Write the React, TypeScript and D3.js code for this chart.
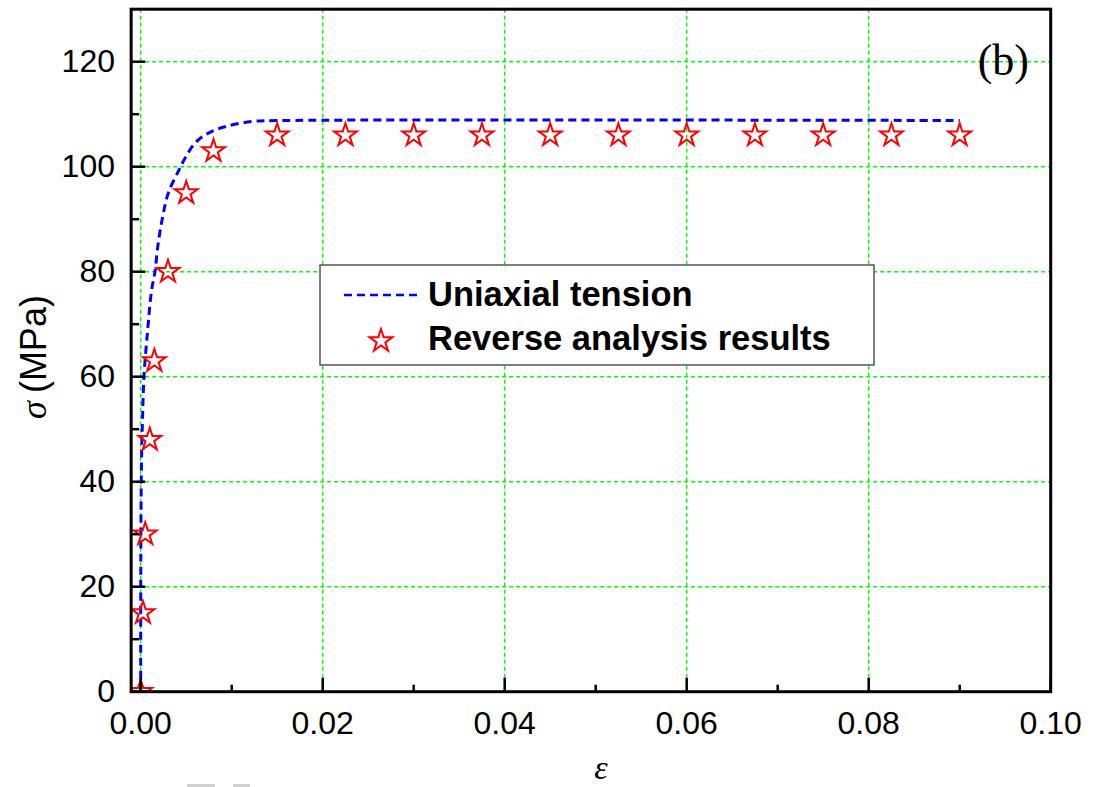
import React from "react";
import * as d3 from "d3";

// Uniaxial tension stress–strain curve (strain, stress in MPa)
const curveStrain = [0, 0.00002, 0.0001, 0.0002, 0.00036, 0.00077, 0.0012, 0.00157, 0.00193, 0.00242, 0.00303, 0.00413, 0.00487, 0.00597, 0.00743, 0.00926, 0.0122, 0.016, 0.09];
const curveStress = [0, 30, 45, 52, 60, 69, 76.5, 80, 85.5, 90.5, 95, 99.1, 101.6, 104.5, 106.4, 107.6, 108.6, 108.8, 108.8];

// Reverse analysis results
const pointStrain = [0, 0.00025, 0.0005, 0.001, 0.0015, 0.003, 0.005, 0.008, 0.015, 0.0225, 0.03, 0.0375, 0.045, 0.0525, 0.06, 0.0675, 0.075, 0.0825, 0.09];
const pointStress = [0, 15, 30, 48, 63, 80, 95, 103, 106, 106, 106, 106, 106, 106, 106, 106, 106, 106, 106];

const xTicks = [0, 0.02, 0.04, 0.06, 0.08, 0.1];
const xMinorTicks = [0.01, 0.03, 0.05, 0.07, 0.09];
const yTicks = [0, 20, 40, 60, 80, 100, 120];
const yMinorTicks = [10, 30, 50, 70, 90, 110, 130];

const seriesNames = ["Uniaxial tension", "Reverse analysis results"];

const W = 1094;
const H = 787;

const xs = d3.scaleLinear().domain([0, 0.1]).range([140.7, 1050.7]);
const ys = d3.scaleLinear().domain([0, 120]).range([691.7, 61.7]);
const xMin = -0.00105;
const xMax = 0.1;
const yMin = 0;
const yMax = 130;

const left = xs(xMin);
const right = xs(xMax);
const top = ys(yMax);
const bottom = ys(yMin);

const sans = "'Liberation Sans', Arial, Helvetica, sans-serif";
const serif = "'Liberation Serif', 'Times New Roman', Times, serif";

const starPath = d3.symbol().type(d3.symbolStar).size(160)() as string;

export default function App() {
  const lineGen = d3
    .line<number>()
    .x((_, i) => xs(curveStrain[i]))
    .y((d) => ys(d))
    .curve(d3.curveCatmullRom.alpha(0.5));
  const curvePath = lineGen(curveStress) as string;

  return (
    <div style={{ position: "absolute", left: 0, top: 0 }}>
      <svg width={W} height={H} viewBox={`0 0 ${W} ${H}`} style={{ display: "block", background: "#fff" }}>
        <defs>
          <clipPath id="plotClip">
            <rect x={left} y={top} width={right - left} height={bottom - top} />
          </clipPath>
        </defs>

        {/* grid */}
        <g stroke="#00ff00" strokeWidth={1.5} strokeDasharray="4,3" fill="none">
          {xTicks.filter((t) => t < 0.1).map((t) => (
            <line key={"gx" + t} x1={xs(t)} x2={xs(t)} y1={bottom} y2={top} />
          ))}
          {yTicks.filter((t) => t > 0).map((t) => (
            <line key={"gy" + t} x1={left} x2={right} y1={ys(t)} y2={ys(t)} />
          ))}
        </g>

        {/* curve and points */}
        <g clipPath="url(#plotClip)">
          <path d={curvePath} fill="none" stroke="#0000ff" strokeWidth={3} strokeDasharray="8,5" />
          {pointStress.map((v, i) => (
            <path
              key={"p" + i}
              d={starPath}
              transform={`translate(${xs(pointStrain[i])},${ys(v)})`}
              fill="none"
              stroke="#ff0000"
              strokeWidth={2}
            />
          ))}
        </g>

        {/* ticks */}
        <g stroke="#000" strokeWidth={2.5}>
          {xTicks.map((t) => (
            <line key={"tx" + t} x1={xs(t)} x2={xs(t)} y1={bottom} y2={bottom - 14} />
          ))}
          {xMinorTicks.map((t) => (
            <line key={"mx" + t} x1={xs(t)} x2={xs(t)} y1={bottom} y2={bottom - 7} />
          ))}
          {yTicks.map((t) => (
            <line key={"ty" + t} x1={left} x2={left + 14} y1={ys(t)} y2={ys(t)} />
          ))}
          {yMinorTicks.filter((t) => t < yMax).map((t) => (
            <line key={"my" + t} x1={left} x2={left + 8} y1={ys(t)} y2={ys(t)} />
          ))}
        </g>

        {/* frame */}
        <rect x={left} y={top} width={right - left} height={bottom - top} fill="none" stroke="#000" strokeWidth={3} />

        {/* tick labels */}
        <g fontFamily={sans} fontSize={32} fill="#000">
          {xTicks.map((t) => (
            <text key={"lx" + t} x={xs(t)} y={734} textAnchor="middle">
              {d3.format(".2f")(t)}
            </text>
          ))}
          {yTicks.map((t) => (
            <text key={"ly" + t} x={115} y={ys(t) + 10} textAnchor="end">
              {t}
            </text>
          ))}
        </g>

        {/* axis titles */}
        <text x={601} y={779} textAnchor="middle" fontFamily={serif} fontStyle="italic" fontSize={34}>
          ε
        </text>
        <text transform="translate(46,357) rotate(-90)" textAnchor="middle" fontSize={36} fontFamily={sans}>
          <tspan fontFamily={serif} fontStyle="italic">σ</tspan>
          <tspan dx={8}>(MPa)</tspan>
        </text>

        {/* panel label */}
        <text x={1029} y={75} textAnchor="end" fontFamily={serif} fontSize={44}>
          (b)
        </text>

        {/* legend */}
        <g>
          <rect x={320} y={265} width={554} height={100} fill="#fff" stroke="#555" strokeWidth={1.5} />
          <line x1={344} x2={417} y1={295} y2={295} stroke="#0000ff" strokeWidth={2.5} strokeDasharray="8,5" />
          <path d={starPath} transform="translate(381,341)" fill="none" stroke="#ff0000" strokeWidth={2} />
          <text x={428} y={306} fontFamily={sans} fontWeight="bold" fontSize={34.5}>
            {seriesNames[0]}
          </text>
          <text x={428} y={350} fontFamily={sans} fontWeight="bold" fontSize={34.5}>
            {seriesNames[1]}
          </text>
        </g>

        {/* faint marks at bottom edge */}
        <rect x={187} y={784} width={28} height={3} fill="#d0d0d0" />
        <rect x={233} y={784} width={17} height={3} fill="#d0d0d0" />
      </svg>
    </div>
  );
}
